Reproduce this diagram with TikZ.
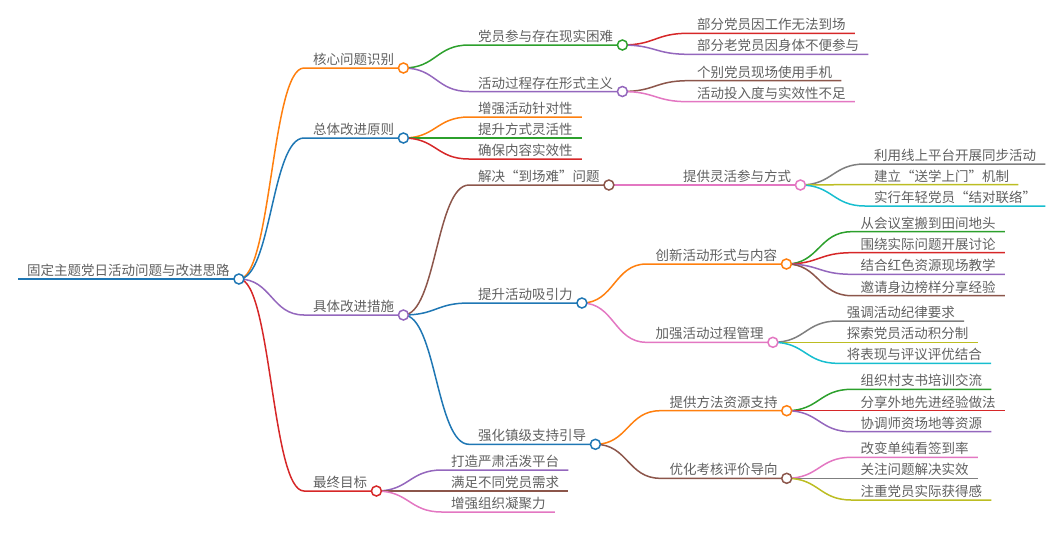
\documentclass[tikz,border=0pt]{standalone}
\usepackage{fontspec}
\setmainfont{Noto Sans CJK SC}
\usetikzlibrary{calc}
\definecolor{cblue}{HTML}{1F77B4}
\definecolor{corange}{HTML}{FF7F0E}
\definecolor{cgreen}{HTML}{2CA02C}
\definecolor{cred}{HTML}{D62728}
\definecolor{cpurple}{HTML}{9467BD}
\definecolor{cbrown}{HTML}{8C564B}
\definecolor{cpink}{HTML}{E377C2}
\definecolor{cgray}{HTML}{7F7F7F}
\definecolor{colive}{HTML}{BCBD22}
\definecolor{ccyan}{HTML}{17BECF}
\definecolor{textgray}{HTML}{606060}
\pgfdeclarelayer{bg}
\pgfsetlayers{bg,main}
\tikzset{
  lbl/.style={font=\fontsize{13.5}{16}\selectfont, text=textgray, inner sep=0pt, anchor=base west},
  link/.style={line width=1.5pt},
  dot/.style={circle, minimum size=10pt, inner sep=0pt, fill=white, line width=1.5pt}
}
% #1 name, #2 parent, #3 text x, #4 line y, #5 colour, #6 text
\newcommand\mmbody[6]{%
  \node[lbl] (#1-t) at (#3, #4-3.5) {#6};
  \coordinate (#1-s) at (#3-9, #4);
  \coordinate (#1-x) at ([xshift=9pt]#1-t.base east);
  \coordinate (#1-e) at (#1-x |- #1-s);
  \begin{pgfonlayer}{bg}
    \draw[link, #5] let \p1=(#2.center), \p2=(#1-s) in
      (\p1) .. controls ({0.5*\x1+0.5*\x2},\y1) and ({0.5*\x1+0.5*\x2},\y2) .. (\p2) -- (#1-e);
  \end{pgfonlayer}
}
\newcommand\mmc[6]{\mmbody{#1}{#2}{#3}{#4}{#5}{#6}\node[dot, draw=#5] (#1) at (#1-e) {};}
\newcommand\mml[6]{\mmbody{#1}{#2}{#3}{#4}{#5}{#6}}
\begin{document}
\begin{tikzpicture}[x=1pt, y=-1pt]
\useasboundingbox (0,0) rectangle (1062,539);
% root
\node[lbl] (root-t) at (27, 279-3.5) {固定主题党日活动问题与改进思路};
\coordinate (root-s) at (18, 279);
\coordinate (root-x) at ([xshift=9pt]root-t.base east);
\coordinate (root-e) at (root-x |- root-s);
\begin{pgfonlayer}{bg}
  \draw[link, cblue] (root-s) -- (root-e);
\end{pgfonlayer}
\node[dot, draw=cblue] (root) at (root-e) {};
% level 1
\mmc{a}{root}{313}{68}{corange}{核心问题识别}
\mmc{b}{root}{313}{138}{cblue}{总体改进原则}
\mmc{c}{root}{313}{315}{cpurple}{具体改进措施}
\mmc{d}{root}{313}{491}{cred}{最终目标}
% a
\mmc{a1}{a}{478}{45}{cgreen}{党员参与存在现实困难}
\mmc{a2}{a}{478}{91.5}{cpurple}{活动过程存在形式主义}
\mml{a11}{a1}{697}{33.3}{cred}{部分党员因工作无法到场}
\mml{a12}{a1}{697}{54.3}{cpurple}{部分老党员因身体不便参与}
\mml{a21}{a2}{697}{80.7}{cbrown}{个别党员现场使用手机}
\mml{a22}{a2}{697}{101.7}{cpink}{活动投入度与实效性不足}
% b
\mml{b1}{b}{478}{117}{corange}{增强活动针对性}
\mml{b2}{b}{478}{138}{cgreen}{提升方式灵活性}
\mml{b3}{b}{478}{159}{cred}{确保内容实效性}
% c
\mmc{c1}{c}{478}{185}{cbrown}{解决“到场难”问题}
\mmc{c11}{c1}{683}{185}{cpink}{提供灵活参与方式}
\mml{c111}{c11}{874}{164}{cgray}{利用线上平台开展同步活动}
\mml{c112}{c11}{874}{184.5}{colive}{建立“送学上门”机制}
\mml{c113}{c11}{874}{206}{ccyan}{实行年轻党员“结对联络”}
\mmc{c2}{c}{478}{303}{cblue}{提升活动吸引力}
\mmc{c21}{c2}{655.5}{264}{corange}{创新活动形式与内容}
\mml{c211}{c21}{860.5}{231.7}{cgreen}{从会议室搬到田间地头}
\mml{c212}{c21}{860.5}{252.7}{cred}{围绕实际问题开展讨论}
\mml{c213}{c21}{860.5}{274.3}{cpurple}{结合红色资源现场教学}
\mml{c214}{c21}{860.5}{295.7}{cbrown}{邀请身边榜样分享经验}
\mmc{c22}{c2}{655.5}{342.3}{cpink}{加强活动过程管理}
\mml{c221}{c22}{846.7}{321}{cgray}{强调活动纪律要求}
\mml{c222}{c22}{846.7}{342.3}{colive}{探索党员活动积分制}
\mml{c223}{c22}{846.7}{363.3}{ccyan}{将表现与评议评优结合}
\mmc{c3}{c}{478}{444.3}{cblue}{强化镇级支持引导}
\mmc{c31}{c3}{669.3}{410.7}{corange}{提供方法资源支持}
\mml{c311}{c31}{860.5}{389.3}{cgreen}{组织村支书培训交流}
\mml{c312}{c31}{860.5}{410.7}{cred}{分享外地先进经验做法}
\mml{c313}{c31}{860.5}{431.7}{cpurple}{协调师资场地等资源}
\mmc{c32}{c3}{669.3}{478.3}{cbrown}{优化考核评价导向}
\mml{c321}{c32}{860.5}{457.3}{cpink}{改变单纯看签到率}
\mml{c322}{c32}{860.5}{478.3}{cgray}{关注问题解决实效}
\mml{c323}{c32}{860.5}{500}{colive}{注重党员实际获得感}
% d
\mml{d1}{d}{451}{470}{cpurple}{打造严肃活泼平台}
\mml{d2}{d}{451}{491}{cbrown}{满足不同党员需求}
\mml{d3}{d}{451}{512}{cpink}{增强组织凝聚力}
\end{tikzpicture}
\end{document}
